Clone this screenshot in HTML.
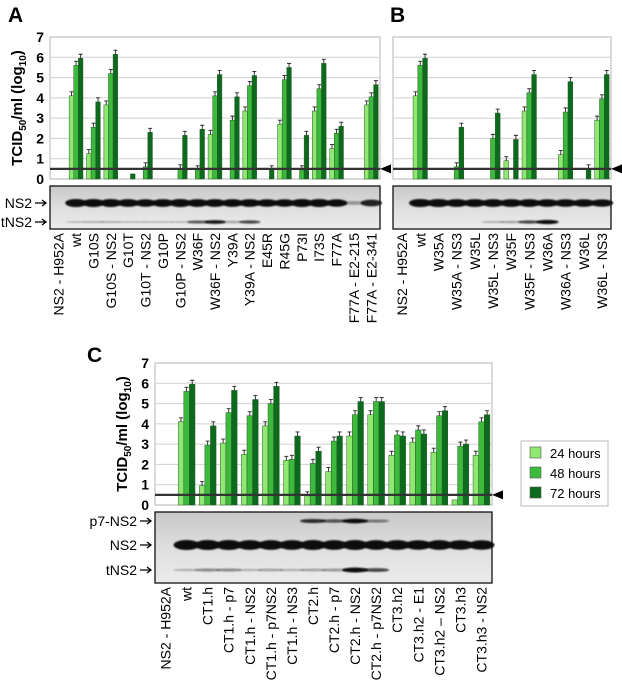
<!DOCTYPE html>
<html><head><meta charset="utf-8">
<style>
html,body{margin:0;padding:0;background:#fff;}
svg{display:block;font-family:"Liberation Sans",Arial,sans-serif;}
</style></head>
<body>
<svg id="fig" width="622" height="682" viewBox="0 0 622 682" xmlns="http://www.w3.org/2000/svg">
<defs>
<linearGradient id="blotbg" x1="0" y1="0" x2="0" y2="1">
<stop offset="0" stop-color="#c8c8c8"/><stop offset="0.5" stop-color="#dedede"/><stop offset="1" stop-color="#ececec"/>
</linearGradient>
<filter id="blur" x="-20%" y="-50%" width="140%" height="200%"><feGaussianBlur stdDeviation="0.9"/></filter>
</defs>
<text x="8" y="22" font-size="21" font-weight="bold">A</text>
<text x="390" y="22" font-size="21" font-weight="bold">B</text>
<text x="87" y="362" font-size="21" font-weight="bold">C</text>
<g>
<rect x="521" y="441" width="87" height="65" fill="#fff" stroke="#bbb"/>
<rect x="530" y="447" width="11" height="11" fill="#8fe86f" stroke="#555" stroke-width="0.6"/>
<text x="550" y="458" font-size="13">24 hours</text>
<rect x="530" y="467" width="11" height="11" fill="#3cba3c" stroke="#555" stroke-width="0.6"/>
<text x="550" y="478" font-size="13">48 hours</text>
<rect x="530" y="487" width="11" height="11" fill="#0b6a1c" stroke="#555" stroke-width="0.6"/>
<text x="550" y="498" font-size="13">72 hours</text>
</g>
</svg>
<script>
// ---- Panel A data ----
const catsA = ["NS2 - H952A","wt","G10S","G10S - NS2","G10T","G10T - NS2","G10P","G10P - NS2","W36F","W36F - NS2","Y39A","Y39A - NS2","E45R","R45G","P73I","I73S","F77A","F77A - E2-215","F77A - E2-341"];
const a24 = [0,4.1,1.25,3.65,0,0,0,0,0,2.2,0,3.35,0,2.7,0,3.35,1.5,0,3.65];
const a48 = [0,5.6,2.55,5.2,0,0.6,0,0.5,0.45,4.1,2.9,4.6,0,4.9,0.45,4.45,2.25,0,4.05];
const a72 = [0,5.95,3.8,6.15,0.25,2.3,0,2.15,2.45,5.15,4.05,5.1,0.45,5.5,2.15,5.7,2.6,0,4.65];
const tNS2A = [0,0.05,0.1,0.1,0.05,0.05,0.05,0.05,0.5,0.8,0.2,0.6,0,0,0,0,0,0,0];
const ns2A  = [0,1,1,1,0.95,0.9,0.95,1,0.95,0.95,0.95,0.95,0.9,0.9,1,1,0.9,0.15,0.75];
// ---- Panel B data ----
const catsB = ["NS2 - H952A","wt","W35A","W35A - NS3","W35L","W35L - NS3","W35F","W35F - NS3","W36A","W36A - NS3","W36L","W36L - NS3"];
const b24 = [0,4.1,0,0,0,0,0.9,3.35,0,1.2,0,2.9];
const b48 = [0,5.6,0,0.6,0,2.0,0,4.25,0,3.3,0,3.95];
const b72 = [0,5.95,0,2.55,0,3.25,1.95,5.15,0,4.8,0.5,5.15];
const tNS2B = [0,0,0,0,0,0.1,0.2,0.6,0.9,0,0,0];
const ns2B  = [0,1,1,0.95,0.95,0.95,0.95,0.95,0.9,0.9,0.9,0.85];
// ---- Panel C data ----
const catsC = ["NS2 - H952A","wt","CT1.h","CT1.h - p7","CT1.h - NS2","CT1.h - p7NS2","CT1.h - NS3","CT2.h","CT2.h - p7","CT2.h - NS2","CT2.h - p7NS2","CT3.h2","CT3.h2 - E1","CT3.h2 \u2013 NS2","CT3.h3","CT3.h3 - NS2"];
const c24 = [0,4.1,0.95,3.05,2.5,3.9,2.2,0.45,1.65,3.4,4.45,2.45,3.1,2.6,0.25,2.45];
const c48 = [0,5.6,2.95,4.55,4.4,5.0,2.25,2.05,3.15,4.45,5.1,3.45,3.7,4.4,2.9,4.1];
const c72 = [0,5.95,3.9,5.65,5.2,5.85,3.4,2.65,3.4,5.1,5.1,3.4,3.5,4.65,3.0,4.45];
const p7C   = [0,0,0,0,0,0,0,0.7,0.5,0.9,0.35,0,0,0,0,0];
const tNS2C = [0,0.1,0.3,0.3,0.1,0.2,0.1,0.2,0.25,1,0.6,0,0,0,0,0];
const ns2C  = [0,1,1,1,0.95,0.95,0.95,1,0.95,1,0.95,0.95,0.9,0.95,0.9,0.9];
const yTicks = [0,1,2,3,4,5,6,7];
const thresholdVal = 0.5;
const errVal = 0.2;

const NS = "http://www.w3.org/2000/svg";
const svg = document.getElementById("fig");
const COLORS = ["#8fe86f","#3cba3c","#0b6a1c"];
function mk(tag, attrs, parent){
  const e = document.createElementNS(NS, tag);
  for (const k in attrs) e.setAttribute(k, attrs[k]);
  (parent||svg).appendChild(e);
  return e;
}

function panel(cfg){
  const g = mk("g", {});
  
  
  const {x0,x1,yTop,yZero,cats} = cfg;
  const yS = v => yZero - v*(yZero-yTop)/7;
  const band = (x1-x0)/cats.length;
  const xC = i => x0 + band*(i+0.5);
  const bg = mk("rect",{x:x0,y:yTop,width:x1-x0,height:yZero-yTop,fill:"#fff",stroke:"#b5b5b5","stroke-width":1},g);
  
  
  yTicks.forEach(t=>{
    if (t>0 && t<7){
      const gl = mk("line",{x1:x0,x2:x1,y1:yS(t),y2:yS(t),stroke:"#d0d0d0","stroke-width":1},g);
      
      
    }
    if (cfg.tickLabels){
      const tl = mk("text",{x:x0-6,y:yS(t)+5,"font-size":14,"font-weight":"bold","text-anchor":"end"},g);
      tl.textContent = t;
      
      
    }
  });
  if (cfg.axisTitle){
    const at = mk("text",{transform:`translate(${cfg.axisTitleX},${(yTop+yZero)/2}) rotate(-90)`,"font-size":15,"font-weight":"bold","text-anchor":"middle"},g);
    
    
    at.innerHTML = 'TCID<tspan font-size="10" dy="4">50</tspan><tspan dy="-4">/ml (log</tspan><tspan font-size="10" dy="4">10</tspan><tspan dy="-4">)</tspan>';
  }
  const bw = cfg.barW;
  [cfg.s24,cfg.s48,cfg.s72].forEach((ser,si)=>{
    ser.forEach((v,i)=>{
      if (v<=0) return;
      const bx = xC(i) + (si-1.5)*bw;
      const r = mk("rect",{x:bx,y:yS(v),width:bw,height:yZero-yS(v),fill:COLORS[si],stroke:"#2d5a2d","stroke-width":0.5},g);
      
      
      if (v>0.3){
        const ey = yS(v+errVal);
        const el = mk("path",{d:`M${bx+bw/2},${yS(v)}V${ey}M${bx+bw/2-2},${ey}H${bx+bw/2+2}`,stroke:"#222","stroke-width":0.9,fill:"none"},g);
        
        
      }
    });
  });
  const ty = yS(thresholdVal);
  const th = mk("line",{x1:x0,x2:x1,y1:ty,y2:ty,stroke:"#333","stroke-width":2.2},g);
  
  
  if (cfg.arrowRight){
    const ar = mk("polygon",{points:`${x1},${ty} ${x1+11},${ty-4.5} ${x1+11},${ty+4.5}`,fill:"#000"},g);
    
    
  }
  const bl = cfg.blot;
  const br = mk("rect",{x:x0,y:bl.y0,width:x1-x0,height:bl.y1-bl.y0,fill:"url(#blotbg)",stroke:"#111","stroke-width":1.3},g);
  
  
  bl.bands.forEach(b=>{
    b.vals.forEach((v,i)=>{
      if (v<=0) return;
      const e = mk("ellipse",{cx:xC(i),cy:b.y,rx:band*0.62,ry:b.h*(0.4+0.6*v),fill:"#111","fill-opacity":Math.min(1,0.15+v),filter:"url(#blur)"},g);
      
      
    });
    if (cfg.blotLabels){
      const lt = mk("text",{x:x0-18,y:b.y+5,"font-size":14,"text-anchor":"end"},g);
      lt.textContent = b.label;
      
      
      const la = mk("path",{d:`M${x0-15},${b.y}H${x0-5}M${x0-8},${b.y-3}L${x0-4},${b.y}L${x0-8},${b.y+3}`,stroke:"#000","stroke-width":1.3,fill:"none"},g);
      
      
    }
  });
  cats.forEach((c,i)=>{
    const t = mk("text",{transform:`translate(${xC(i)+5},${bl.y1+4}) rotate(-90)`,"font-size":14,"text-anchor":"end"},g);
    t.textContent = c;
    
    
  });
}

panel({name:"panel-a", x0:50,x1:380,yTop:37,yZero:179,cats:catsA,s24:a24,s48:a48,s72:a72,barW:4.6,
  tickLabels:true,axisTitle:true,axisTitleX:22,arrowRight:true,blotLabels:true,
  blot:{y0:186,y1:229,bands:[{label:"NS2",y:203,h:4,vals:ns2A},{label:"tNS2",y:222,h:2.2,vals:tNS2A}]}});
panel({name:"panel-b", x0:393,x1:611,yTop:37,yZero:179,cats:catsB,s24:b24,s48:b48,s72:b72,barW:4.8,
  tickLabels:false,axisTitle:false,arrowRight:true,blotLabels:false,
  blot:{y0:186,y1:229,bands:[{label:"NS2",y:203,h:4,vals:ns2B},{label:"tNS2",y:222,h:2.2,vals:tNS2B}]}});
panel({name:"panel-c", x0:155,x1:492,yTop:363,yZero:505,cats:catsC,s24:c24,s48:c48,s72:c72,barW:5.6,
  tickLabels:true,axisTitle:true,axisTitleX:127,arrowRight:true,blotLabels:true,
  blot:{y0:512,y1:583,bands:[{label:"p7-NS2",y:521,h:2.5,vals:p7C},{label:"NS2",y:545,h:5,vals:ns2C},{label:"tNS2",y:570,h:2.5,vals:tNS2C}]}});
</script>
</body></html>
